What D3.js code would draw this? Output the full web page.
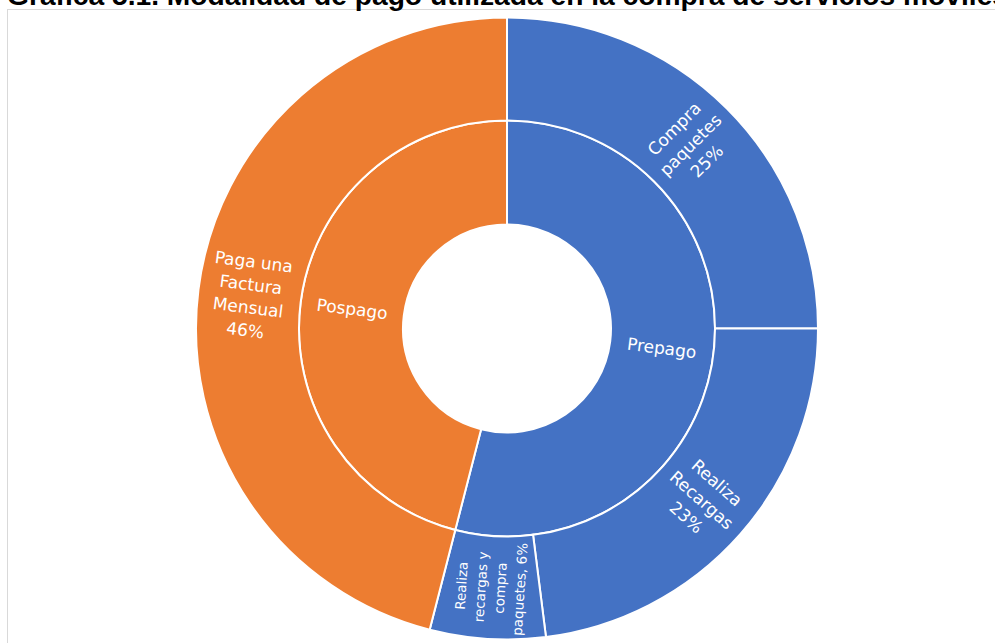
<!DOCTYPE html>
<html>
<head>
<meta charset="utf-8">
<script src="https://cdn.jsdelivr.net/npm/d3@7"></script>
<style>
body{margin:0;background:#fff;}
svg{display:block;}
</style>
</head>
<body>
<svg id="chart"></svg>
<script>
var width=995;
var height=643;
var titleText="Gráfica 5.1. Modalidad de pago utilizada en la compra de servicios móviles";

// inner ring: payment type
var modalidades=["Prepago","Pospago"];
var modalidadColors=["#4472C4","#ED7D31"];

// outer ring: how the service is bought
var formas=["Compra paquetes","Realiza Recargas","Realiza recargas y compra paquetes","Paga una Factura Mensual"];
var formaModalidad=["Prepago","Prepago","Prepago","Pospago"];
var formaValues=[25,23,6,46];
var formaLabels=[
  ["Compra","paquetes","25%"],
  ["Realiza","Recargas","23%"],
  ["Realiza","recargas y","compra","paquetes, 6%"],
  ["Paga una","Factura","Mensual","46%"]
];

var colorScale=d3.scaleOrdinal().domain(modalidades).range(modalidadColors);

// build the hierarchy
var data={name:"total",children:modalidades.map(function(m){
  return {name:m,children:formas.map(function(f,i){
      return {name:f,value:formaValues[i],lines:formaLabels[i],parentName:formaModalidad[i]};
    }).filter(function(d){return d.parentName==m;})};
})};

var hierarchy=d3.hierarchy(data).sum(function(d){return d.value||0;});
var root=d3.partition().size([2*Math.PI,hierarchy.height+1])(hierarchy);

var cx=507, cy=328.5;
// ring radii: hole, inner ring, outer ring
var rScale=d3.scaleLinear().domain([1,2,3]).range([104,208,311]);

var arc=d3.arc()
  .startAngle(function(d){return d.x0;})
  .endAngle(function(d){return d.x1;})
  .innerRadius(function(d){return rScale(d.y0);})
  .outerRadius(function(d){return rScale(d.y1);});

var svg=d3.select("#chart").attr("width",width).attr("height",height);

// chart frame (cut by the page on the right and bottom)
svg.append("rect")
  .attr("x",7.5).attr("y",9.5)
  .attr("width",1100).attr("height",700)
  .attr("fill","none")
  .attr("stroke","#d9d9d9")
  .attr("stroke-width",1);

svg.append("text")
  .attr("x",7).attr("y",5)
  .attr("font-family","'Liberation Sans', Arial, sans-serif")
  .attr("font-weight","bold")
  .attr("font-size","28.2px")
  .attr("fill","#000")
  .text(titleText);

var g=svg.append("g").attr("transform","translate("+cx+","+cy+")");

g.append("g")
  .selectAll("path")
  .data(root.descendants().slice(1))
  .join("path")
    .attr("d",arc)
    .attr("fill",function(d){
      while(d.depth>1) d=d.parent;
      return colorScale(d.data.name);
    })
    .attr("stroke","#fff")
    .attr("stroke-width",2);

function labelTransform(d){
  var x=(d.x0+d.x1)/2*180/Math.PI;
  var y=(rScale(d.y0)+rScale(d.y1))/2;
  return "rotate("+(x-90)+") translate("+y+",0) rotate("+(x<180?0:180)+")";
}

function isSmall(d){return (d.x1-d.x0)<0.5;}

var label=g.append("g")
  .attr("text-anchor","middle")
  .attr("fill","#fff")
  .attr("font-family","'DejaVu Sans', Verdana, sans-serif")
  .selectAll("text")
  .data(root.descendants().slice(1))
  .join("text")
    .attr("transform",labelTransform)
    .attr("font-size",function(d){return isSmall(d)?"13.5px":"17px";});

label.each(function(d){
  var lines=d.depth==1?[d.data.name]:d.data.lines;
  var lh=isSmall(d)?19.5:23;
  d3.select(this).selectAll("tspan")
    .data(lines)
    .join("tspan")
      .attr("x",0)
      .attr("y",function(t,i){return (i-(lines.length-1)/2)*lh;})
      .attr("dy","0.35em")
      .text(function(t){return t;});
});
</script>
</body>
</html>
